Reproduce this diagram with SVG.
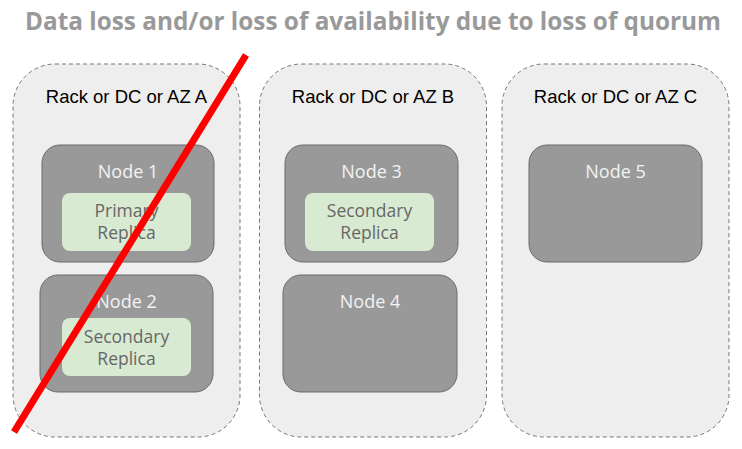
<svg xmlns="http://www.w3.org/2000/svg" width="742" height="449" viewBox="0 0 742 449">
<style>
.zone{fill:#eeeeee;stroke:#777777;stroke-width:1;stroke-dasharray:4 3}
.node{fill:#999999;stroke:#6b6b6b;stroke-width:1}
.rep{fill:#d9ead3;stroke:none}
.title{font-family:"Open Sans","Noto Sans",sans-serif;font-weight:bold;font-size:25px;fill:#999999}
.zl{font-family:"Liberation Sans",Arial,sans-serif;font-size:18.5px;fill:#000000;text-anchor:middle}
.nl{font-family:"Open Sans","Noto Sans",sans-serif;font-size:18px;fill:#f3f3f3;text-anchor:middle}
.rl{font-family:"Open Sans","Noto Sans",sans-serif;font-size:17.5px;fill:#666666;text-anchor:middle}
</style>
<rect width="742" height="449" fill="#ffffff"/>
<text class="title" x="25" y="30" textLength="696" lengthAdjust="spacingAndGlyphs">Data loss and/or loss of availability due to loss of quorum</text>
<g id="zoneA">
<rect class="zone" x="13" y="64" width="227" height="373" rx="42"/>
<text class="zl" x="126.5" y="103">Rack or DC or AZ A</text>
</g>
<g id="zoneB">
<rect class="zone" x="259.5" y="64" width="227" height="373" rx="42"/>
<text class="zl" x="373" y="103">Rack or DC or AZ B</text>
</g>
<g id="zoneC">
<rect class="zone" x="502" y="64" width="227" height="373" rx="42"/>
<text class="zl" x="615.5" y="103">Rack or DC or AZ C</text>
</g>
<g id="node1">
<rect class="node" x="42" y="145" width="172" height="117" rx="18"/>
<text class="nl" x="128" y="178">Node 1</text>
<rect class="rep" x="62" y="193" width="129" height="58" rx="8"/>
<text class="rl" x="126.5" y="217">Primary</text>
<text class="rl" x="126.5" y="239">Replica</text>
</g>
<g id="node2">
<rect class="node" x="40" y="275" width="173" height="117" rx="18"/>
<text class="nl" x="126.5" y="308">Node 2</text>
<rect class="rep" x="62" y="318" width="129" height="58" rx="8"/>
<text class="rl" x="126.5" y="343">Secondary</text>
<text class="rl" x="126.5" y="365">Replica</text>
</g>
<g id="node3">
<rect class="node" x="285" y="145" width="173" height="117" rx="18"/>
<text class="nl" x="371.5" y="178">Node 3</text>
<rect class="rep" x="305" y="193" width="129" height="58" rx="8"/>
<text class="rl" x="369.5" y="217">Secondary</text>
<text class="rl" x="369.5" y="239">Replica</text>
</g>
<g id="node4">
<rect class="node" x="283" y="275" width="174" height="117" rx="18"/>
<text class="nl" x="370" y="308">Node 4</text>
</g>
<g id="node5">
<rect class="node" x="529" y="145" width="173" height="117" rx="18"/>
<text class="nl" x="615.5" y="178">Node 5</text>
</g>
<g id="connectors">
<line x1="246" y1="55" x2="14" y2="432" stroke="#ff0000" stroke-width="7"/>
</g>
</svg>
